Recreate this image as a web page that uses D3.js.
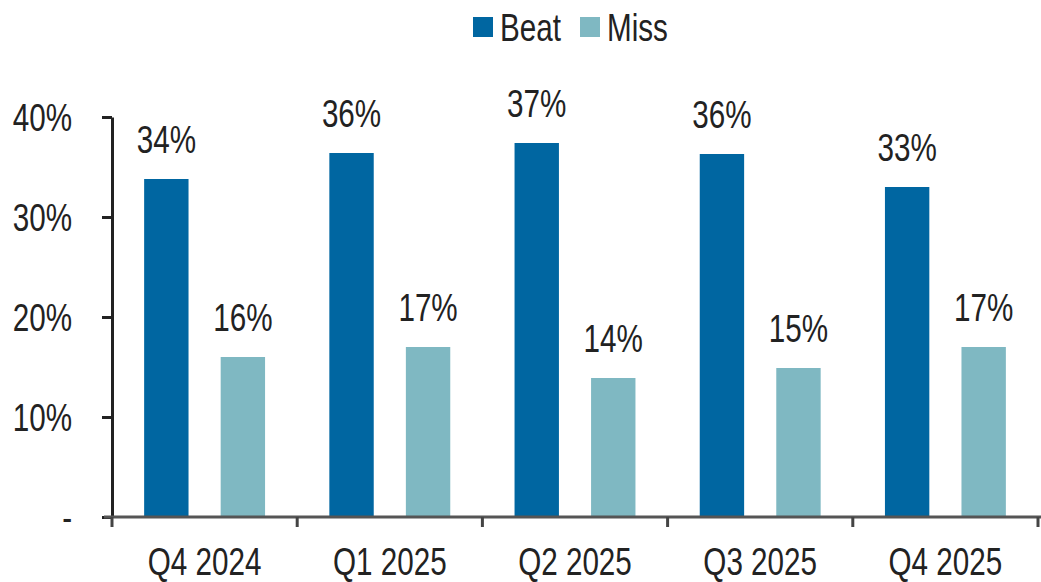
<!DOCTYPE html>
<html>
<head>
<meta charset="utf-8">
<script src="https://cdn.jsdelivr.net/npm/d3@7"></script>
<style>
  body { margin: 0; background: #fff; }
  svg text { font-family: "Liberation Sans", Arial, sans-serif; fill: #222; }
</style>
</head>
<body>
<div id="chart"></div>
<script>
// data
var quarters = ['Q4 2024', 'Q1 2025', 'Q2 2025', 'Q3 2025', 'Q4 2025'];
var seriesNames = ['Beat', 'Miss'];
var beat = [33.8, 36.4, 37.4, 36.3, 33.0];
var miss = [16.0, 17.0, 13.9, 14.9, 17.0];
var yTicks = [0, 10, 20, 30, 40];
var colors = ['#0066a1', '#7fb8c2'];

var width = 1041, height = 582;
var fontSize = 38;
var squeeze = 0.78; // the source font is a narrow one

var svg = d3.select('#chart').append('svg')
  .attr('width', width)
  .attr('height', height);

// narrow text: put it at (px,py) and squeeze it sideways
function narrow(sel, px, py){
  sel.attr('transform', function(d, i){
    var a = typeof px === 'function' ? px(d, i) : px;
    var b = typeof py === 'function' ? py(d, i) : py;
    return 'translate(' + a + ',' + b + ') scale(' + squeeze + ',1)';
  });
  return sel;
}

var x = d3.scaleBand()
  .domain(quarters)
  .range([112, 1038]);

var xs = d3.scaleBand()
  .domain(seriesNames)
  .range([0, x.bandwidth()])
  .padding(0.42);

var y = d3.scaleLinear()
  .domain([0, 40])
  .range([517, 117]);

var rows = quarters.map(function(q, i){
  return { q: q, vals: [beat[i], miss[i]] };
});

// bars
var groups = svg.selectAll('g.grp')
  .data(rows)
  .enter().append('g')
  .attr('class', 'grp')
  .attr('transform', function(d){ return 'translate(' + x(d.q) + ',0)'; });

groups.selectAll('rect')
  .data(function(d){ return d.vals.map(function(v, j){ return { s: seriesNames[j], v: v, j: j }; }); })
  .enter().append('rect')
  .attr('x', function(d){ return xs(d.s); })
  .attr('y', function(d){ return y(d.v); })
  .attr('width', xs.bandwidth())
  .attr('height', function(d){ return y(0) - y(d.v); })
  .attr('fill', function(d){ return colors[d.j]; });

var lbl = groups.selectAll('text.lbl')
  .data(function(d){ return d.vals.map(function(v, j){ return { s: seriesNames[j], v: v }; }); })
  .enter().append('text')
  .attr('class', 'lbl')
  .attr('text-anchor', 'middle')
  .style('font-size', fontSize + 'px')
  .text(function(d){ return Math.round(d.v) + '%'; });
narrow(lbl, function(d){ return xs(d.s) + xs.bandwidth() / 2; }, function(d){ return y(d.v) - 26; });

// y axis
var yAxis = d3.axisLeft(y)
  .tickValues(yTicks)
  .tickSize(10)
  .tickSizeOuter(0)
  .tickFormat(function(d){ return d === 0 ? '-' : d + '%'; });

var gy = svg.append('g')
  .attr('transform', 'translate(112,0)')
  .call(yAxis);
gy.select('.domain').attr('stroke', '#222').attr('stroke-width', 3);
gy.selectAll('.tick line').attr('stroke', '#222').attr('stroke-width', 3);
var yt = gy.selectAll('.tick text')
  .style('font-size', fontSize + 'px')
  .style('font-family', null)
  .attr('fill', '#222')
  .attr('x', null)
  .attr('dy', '0.35em');
narrow(yt, -40, 0);

// x axis: line with ticks at category boundaries
var gx = svg.append('g').attr('class', 'xaxis');
gx.append('line')
  .attr('x1', 104).attr('x2', x.range()[1] + 3)
  .attr('y1', y(0)).attr('y2', y(0))
  .attr('stroke', '#555').attr('stroke-width', 3);

var bounds = quarters.map(function(q){ return x(q); }).concat([x.range()[1]]);
gx.selectAll('line.tk')
  .data(bounds)
  .enter().append('line')
  .attr('class', 'tk')
  .attr('x1', function(d){ return d; }).attr('x2', function(d){ return d; })
  .attr('y1', y(0)).attr('y2', y(0) + 10)
  .attr('stroke', '#444').attr('stroke-width', 3);

var xt = gx.selectAll('text')
  .data(quarters)
  .enter().append('text')
  .attr('text-anchor', 'middle')
  .style('font-size', fontSize + 'px')
  .text(function(d){ return d; });
narrow(xt, function(d){ return x(d) + x.bandwidth() / 2; }, 575);

// legend
var legend = svg.append('g').attr('transform', 'translate(473,0)');
var lx = [0, 107];
seriesNames.forEach(function(s, i){
  legend.append('rect')
    .attr('x', lx[i]).attr('y', 17)
    .attr('width', 20).attr('height', 20)
    .attr('fill', colors[i]);
  narrow(legend.append('text')
    .style('font-size', fontSize + 'px')
    .text(s), lx[i] + 27, 41);
});
</script>
</body>
</html>
